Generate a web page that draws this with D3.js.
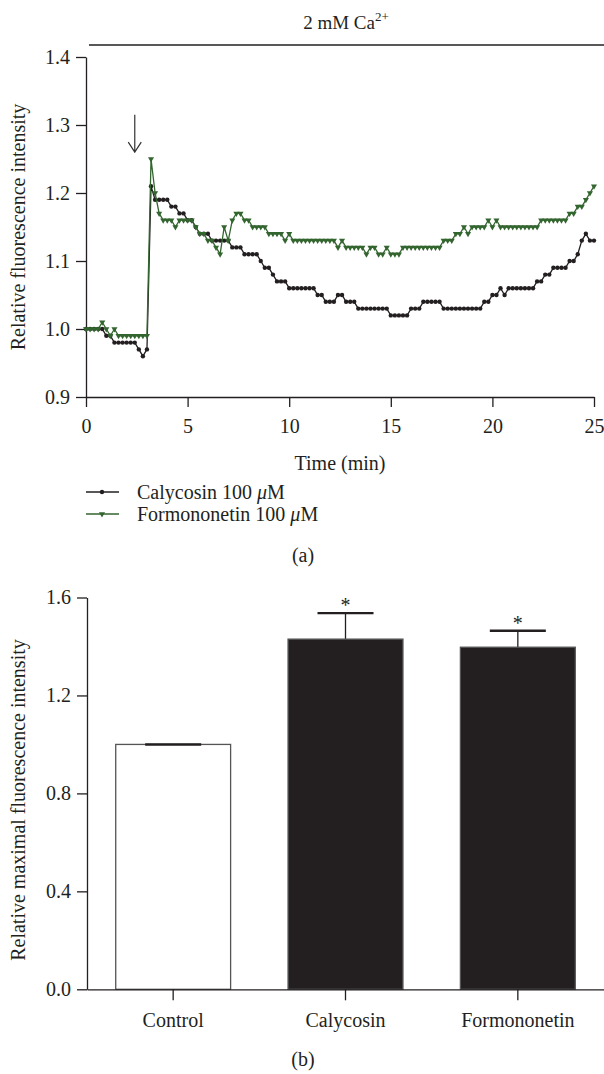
<!DOCTYPE html>
<html><head><meta charset="utf-8">
<script src="https://cdn.jsdelivr.net/npm/d3@7"></script>
<style>
body{margin:0;background:#fff}
svg{display:block}
text{font-family:"Liberation Serif","Times New Roman",serif;fill:#231f20}
</style>
</head><body>
<svg id="c" width="604" height="1074"></svg>
<script>
// ---------- Data: panel (a) ----------
const timeMin = [0,0.2,0.4,0.6,0.8,1,1.2,1.4,1.6,1.8,2,2.2,2.4,2.6,2.8,3,3.2,3.4,3.6,3.8,
4,4.2,4.4,4.6,4.8,5,5.2,5.4,5.6,5.8,6,6.2,6.4,6.6,6.8,7,7.2,7.4,7.6,7.8,
8,8.2,8.4,8.6,8.8,9,9.2,9.4,9.6,9.8,10,10.2,10.4,10.6,10.8,11,11.2,11.4,11.6,11.8,
12,12.2,12.4,12.6,12.8,13,13.2,13.4,13.6,13.8,14,14.2,14.4,14.6,14.8,15,15.2,15.4,15.6,15.8,
16,16.2,16.4,16.6,16.8,17,17.2,17.4,17.6,17.8,18,18.2,18.4,18.6,18.8,19,19.2,19.4,19.6,19.8,
20,20.2,20.4,20.6,20.8,21,21.2,21.4,21.6,21.8,22,22.2,22.4,22.6,22.8,23,23.2,23.4,23.6,23.8,
24,24.2,24.4,24.6,24.8,25];
const calycosin = [1.00,1.00,1.00,1.00,1.00,0.99,0.99,0.98,0.98,0.98,
0.98,0.98,0.98,0.97,0.96,0.97,1.21,1.19,1.19,1.19,
1.19,1.18,1.18,1.17,1.17,1.16,1.16,1.15,1.14,1.14,
1.14,1.13,1.13,1.13,1.13,1.13,1.12,1.12,1.12,1.11,
1.11,1.11,1.11,1.10,1.09,1.09,1.08,1.07,1.07,1.07,
1.06,1.06,1.06,1.06,1.06,1.06,1.06,1.05,1.05,1.04,
1.04,1.04,1.05,1.05,1.04,1.04,1.04,1.03,1.03,1.03,
1.03,1.03,1.03,1.03,1.03,1.02,1.02,1.02,1.02,1.02,
1.03,1.03,1.03,1.04,1.04,1.04,1.04,1.04,1.03,1.03,
1.03,1.03,1.03,1.03,1.03,1.03,1.03,1.03,1.04,1.04,
1.05,1.05,1.06,1.05,1.06,1.06,1.06,1.06,1.06,1.06,
1.06,1.07,1.07,1.08,1.08,1.09,1.09,1.09,1.09,1.10,
1.10,1.11,1.13,1.14,1.13,1.13];
const formononetin = [1.00,1.00,1.00,1.00,1.01,1.00,0.99,1.00,0.99,0.99,
0.99,0.99,0.99,0.99,0.99,0.99,1.25,1.20,1.17,1.16,
1.16,1.16,1.15,1.16,1.16,1.16,1.16,1.15,1.14,1.14,
1.13,1.13,1.12,1.11,1.15,1.13,1.16,1.17,1.17,1.16,
1.16,1.15,1.15,1.15,1.15,1.14,1.14,1.14,1.14,1.13,
1.14,1.13,1.13,1.13,1.13,1.13,1.13,1.13,1.13,1.13,
1.13,1.13,1.12,1.13,1.12,1.12,1.12,1.12,1.12,1.11,
1.12,1.12,1.11,1.11,1.12,1.11,1.11,1.11,1.12,1.12,
1.12,1.12,1.12,1.12,1.12,1.12,1.12,1.12,1.13,1.13,
1.13,1.14,1.14,1.15,1.14,1.15,1.15,1.15,1.15,1.16,
1.15,1.16,1.15,1.15,1.15,1.15,1.15,1.15,1.15,1.15,
1.15,1.15,1.16,1.16,1.16,1.16,1.16,1.16,1.16,1.17,
1.17,1.18,1.18,1.19,1.20,1.21];
const xTicksA = [0,5,10,15,20,25];
const yTicksA = [0.9,1.0,1.1,1.2,1.3,1.4];
const seriesNames = ["Calycosin 100 ", "Formononetin 100 "];
const arrowTime = 2.4, arrowFrom = 1.315, arrowTo = 1.26;

// ---------- Data: panel (b) ----------
const categories = ["Control","Calycosin","Formononetin"];
const barMeans = [1.0, 1.43, 1.397];
const barErrors = [0, 0.106, 0.067];
const barSig = ["", "*", "*"];
const yTicksB = [0.0,0.4,0.8,1.2,1.6];

const INK = "#231f20", GREEN = "#33652f";
const FONT = "'Liberation Serif','Times New Roman',serif";
const svg = d3.select("#c").attr("font-family", FONT);

// ================= Panel (a) =================
const xA = d3.scaleLinear().domain([0,25]).range([86,594]);
const yA = d3.scaleLinear().domain([0.9,1.4]).range([397,57]);

// header bar + label
svg.append("line").attr("x1",89).attr("x2",604).attr("y1",45).attr("y2",45)
  .attr("stroke",INK).attr("stroke-width",1.5);
const ttl = svg.append("text").attr("x",346).attr("y",29).attr("text-anchor","middle").style("font-size","19px");
ttl.append("tspan").text("2 mM Ca");
ttl.append("tspan").attr("dy",-8).style("font-size","13px").text("2+");

function styleAxis(g){
  g.attr("font-family", FONT);
  g.selectAll("path,line").attr("stroke",INK).attr("stroke-width",1.3);
  g.selectAll("text").style("font-size","20px").attr("fill",INK).style("font-family",FONT);
}
const gyA = svg.append("g").attr("transform","translate(86,0)")
  .call(d3.axisLeft(yA).tickValues(yTicksA).tickFormat(d3.format(".1f")).tickSize(10).tickSizeOuter(0).tickPadding(6));
const gxA = svg.append("g").attr("transform","translate(0,397)")
  .call(d3.axisBottom(xA).tickValues(xTicksA).tickFormat(d3.format("d")).tickSize(10).tickSizeOuter(0).tickPadding(12));
styleAxis(gyA); styleAxis(gxA);

svg.append("text").attr("x",(xA(0)+xA(25))/2).attr("y",470).attr("text-anchor","middle").style("font-size","20px").text("Time (min)");
svg.append("text").attr("transform","translate(25,227) rotate(-90)").attr("text-anchor","middle")
  .style("font-size","20px").text("Relative fluorescence intensity");

// arrow
const ax = xA(arrowTime), ay1 = yA(arrowFrom), ay2 = yA(arrowTo);
svg.append("path").attr("d",`M${ax},${ay1}L${ax},${ay2}M${ax-6.5},${ay2-10}L${ax},${ay2}L${ax+6.5},${ay2-10}`)
  .attr("fill","none").attr("stroke","#333").attr("stroke-width",1.2);

const ptsC = timeMin.map((t,i)=>[t,calycosin[i]]);
const ptsF = timeMin.map((t,i)=>[t,formononetin[i]]);
const line = d3.line().x(d=>xA(d[0])).y(d=>yA(d[1]));
const tri = d3.symbol().type(d3.symbolTriangle).size(16);

svg.append("path").datum(ptsC).attr("d",line).attr("fill","none").attr("stroke",INK).attr("stroke-width",1.3);
svg.append("g").selectAll("circle").data(ptsC).join("circle")
  .attr("cx",d=>xA(d[0])).attr("cy",d=>yA(d[1])).attr("r",2.2).attr("fill",INK);

svg.append("path").datum(ptsF).attr("d",line).attr("fill","none").attr("stroke",GREEN).attr("stroke-width",1.3);
svg.append("g").selectAll("path").data(ptsF).join("path")
  .attr("d",tri).attr("transform",d=>`translate(${xA(d[0])},${yA(d[1])}) rotate(180)`).attr("fill",GREEN);

// legend
const leg = [{y:492,c:INK,shape:"c"},{y:514,c:GREEN,shape:"t"}];
leg.forEach((L,i)=>{
  svg.append("line").attr("x1",86).attr("x2",119).attr("y1",L.y).attr("y2",L.y).attr("stroke",L.c).attr("stroke-width",1.3);
  if(L.shape==="c") svg.append("circle").attr("cx",102).attr("cy",L.y).attr("r",2.2).attr("fill",L.c);
  else svg.append("path").attr("d",tri).attr("transform",`translate(102,${L.y}) rotate(180)`).attr("fill",L.c);
  const t = svg.append("text").attr("x",137).attr("y",L.y+6.5).style("font-size","20px");
  t.append("tspan").text(seriesNames[i]);
  t.append("tspan").style("font-style","italic").text("\u03bc");
  t.append("tspan").text("M");
});
svg.append("text").attr("x",303).attr("y",562).attr("text-anchor","middle").style("font-size","20px").text("(a)");

// ================= Panel (b) =================
const xB = d3.scaleBand().domain(categories).range([87,604]).paddingInner(1/3).paddingOuter(1/6);
const yB = d3.scaleLinear().domain([0,1.6]).range([989.3,597.5]);

const bars = categories.map((c,i)=>({c,m:barMeans[i],e:barErrors[i],s:barSig[i]}));
const cx = d=>xB(d.c)+xB.bandwidth()/2;
svg.append("g").selectAll("line").data(bars).join("line")
  .attr("x1",cx).attr("x2",cx).attr("y1",d=>yB(d.m)).attr("y2",d=>yB(d.m+d.e))
  .attr("stroke",INK).attr("stroke-width",1.3);
svg.append("g").selectAll("rect").data(bars).join("rect")
  .attr("x",d=>xB(d.c)).attr("width",xB.bandwidth())
  .attr("y",d=>yB(d.m)).attr("height",d=>yB(0)-yB(d.m))
  .attr("fill",(d,i)=>i===0?"#fff":INK).attr("stroke","#555").attr("stroke-width",1.3);
svg.append("g").selectAll("line").data(bars).join("line")
  .attr("x1",d=>cx(d)-28).attr("x2",d=>cx(d)+28).attr("y1",d=>yB(d.m+d.e)).attr("y2",d=>yB(d.m+d.e))
  .attr("stroke",INK).attr("stroke-width",2.4);
svg.append("g").selectAll("text").data(bars).join("text")
  .attr("x",cx).attr("y",d=>yB(d.m+d.e)-1).attr("text-anchor","middle").style("font-size","20px").text(d=>d.s);

const gyB = svg.append("g").attr("transform","translate(87,0)")
  .call(d3.axisLeft(yB).tickValues(yTicksB).tickFormat(d3.format(".1f")).tickSize(10).tickSizeOuter(0).tickPadding(6));
const gxB = svg.append("g").attr("transform","translate(0,989.3)")
  .call(d3.axisBottom(xB).tickSize(11).tickSizeOuter(0).tickPadding(13));
styleAxis(gyB); styleAxis(gxB);
svg.append("text").attr("transform","translate(25,800) rotate(-90)").attr("text-anchor","middle")
  .style("font-size","20px").text("Relative maximal fluorescence intensity");
svg.append("text").attr("x",303).attr("y",1066).attr("text-anchor","middle").style("font-size","20px").text("(b)");
</script>
</body></html>
